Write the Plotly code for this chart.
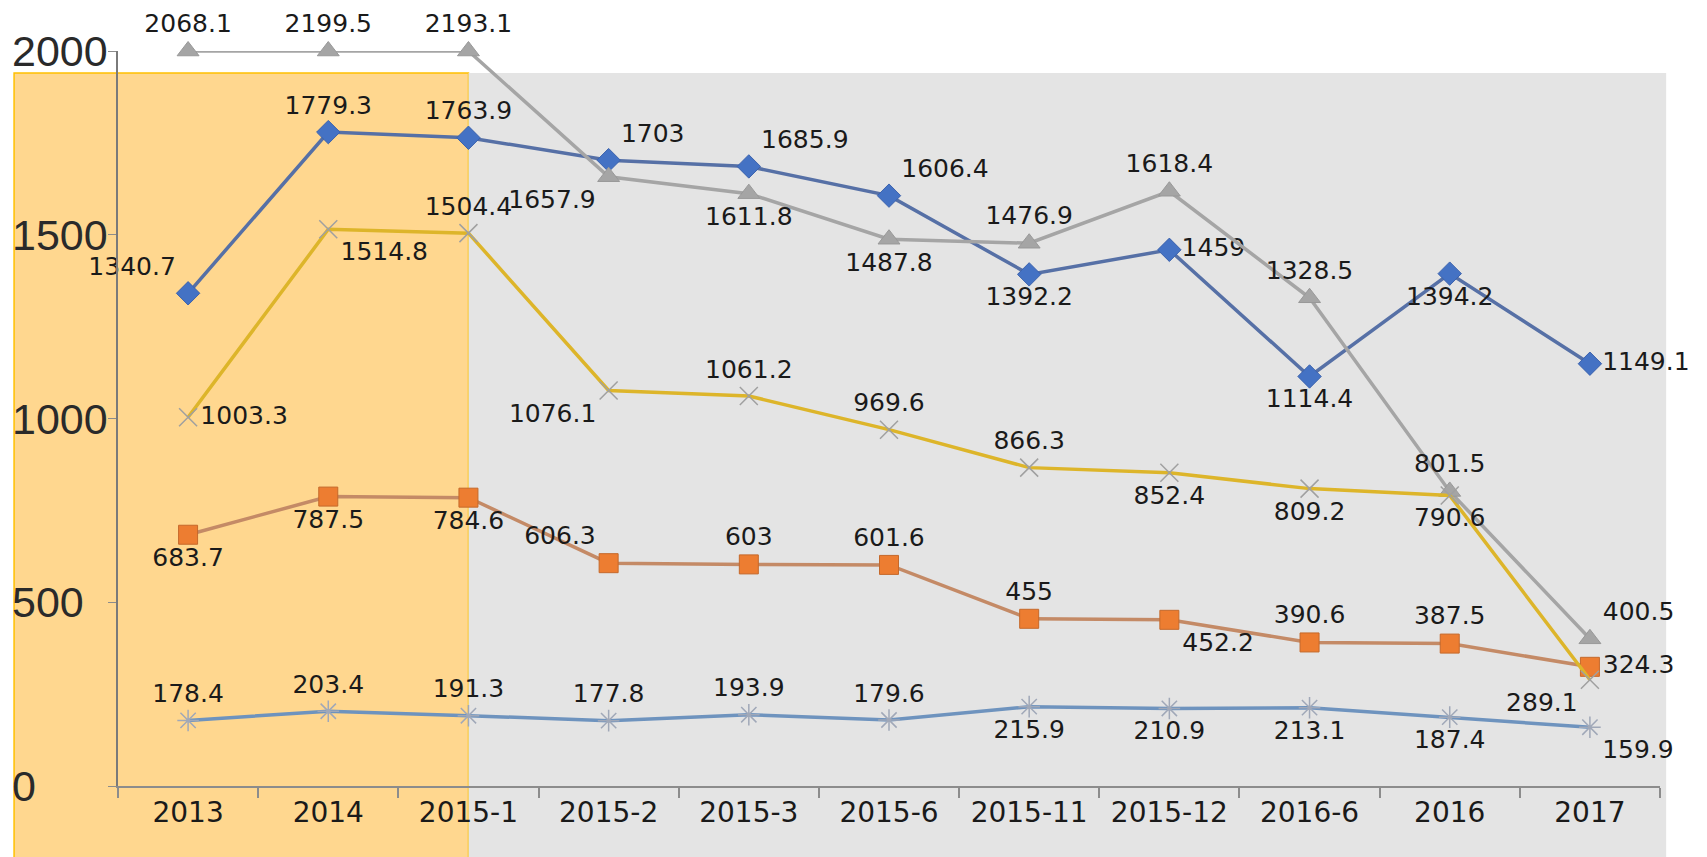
import plotly.graph_objects as go

categories = ["2013", "2014", "2015-1", "2015-2", "2015-3", "2015-6",
              "2015-11", "2015-12", "2016-6", "2016", "2017"]

s_blue = [1340.7, 1779.3, 1763.9, 1703, 1685.9, 1606.4, 1392.2, 1459, 1114.4, 1394.2, 1149.1]
s_orange = [683.7, 787.5, 784.6, 606.3, 603, 601.6, 455, 452.2, 390.6, 387.5, 324.3]
s_gray = [2068.1, 2199.5, 2193.1, 1657.9, 1611.8, 1487.8, 1476.9, 1618.4, 1328.5, 801.5, 400.5]
s_yellow = [1003.3, 1514.8, 1504.4, 1076.1, 1061.2, 969.6, 866.3, 852.4, 809.2, 790.6, 289.1]
s_lblue = [178.4, 203.4, 191.3, 177.8, 193.9, 179.6, 215.9, 210.9, 213.1, 187.4, 159.9]

y_ticks = [0, 500, 1000, 1500, 2000]
y_max = 2000

pos_blue = ["top left", "top center", "top center", "top right", "top right", "top right",
            "bottom center", "middle right", "bottom center", "bottom center", "middle right"]
pos_orange = ["bottom center", "bottom center", "bottom center", "top left", "top center", "top center",
              "top center", "bottom right", "top center", "top center", "middle right"]
pos_gray = ["top center", "top center", "top center", "bottom left", "bottom center", "bottom center",
            "top center", "top center", "top center", "top center", "top right"]
pos_yellow = ["middle right", "bottom right", "top center", "bottom left", "top center", "top center",
              "top center", "bottom center", "bottom center", "bottom center", "bottom left"]
pos_lblue = ["top center", "top center", "top center", "top center", "top center", "top center",
             "bottom center", "bottom center", "bottom center", "bottom center", "bottom right"]

label_font = dict(family="DejaVu Sans", size=25, color="#1a1a1a")

fig = go.Figure()

def clamp(vals):
    # Excel-like: points beyond the axis maximum are drawn at the maximum
    return [min(v, y_max) for v in vals]

def add(vals, name, line_color, marker, positions, width=3.5):
    fig.add_trace(go.Scatter(
        x=categories, y=clamp(vals), name=name, mode="lines+markers+text",
        line=dict(color=line_color, width=width),
        marker=marker,
        text=[f"{v:g}" for v in vals], textposition=positions,
        textfont=label_font, cliponaxis=False, showlegend=False))

add(s_blue, "A", "#5670A6",
    dict(symbol="diamond", size=18, color="#4472C4", line=dict(color="#3B62AD", width=1)), pos_blue)
add(s_orange, "B", "#C48A66",
    dict(symbol="square", size=19, color="#ED7D31", line=dict(color="#C5692B", width=1)), pos_orange)
add(s_gray, "C", "#A5A5A5",
    dict(symbol="triangle-up", size=19, color="#A5A5A5", line=dict(color="#999999", width=1)), pos_gray)
add(s_yellow, "D", "#DDB52A",
    dict(symbol="x-thin-open", size=18, color="#A0A0A0", line=dict(color="#A0A0A0", width=1.5)), pos_yellow)
add(s_lblue, "E", "#6E93BE",
    dict(symbol="asterisk-open", size=18, color="#A0A8B8", line=dict(color="#A0A8B8", width=1.5)), pos_lblue)

# background panels (orange highlight for first three categories, grey for the rest)
fig.add_shape(type="rect", xref="paper", yref="paper", x0=-0.0674, x1=0.2273, y0=-0.1, y1=0.970,
              fillcolor="#FFD78F", line=dict(color="#FFC000", width=1.5), layer="below")
fig.add_shape(type="rect", xref="paper", yref="paper", x0=0.2273, x1=1.004, y0=-0.1, y1=0.970,
              fillcolor="#E4E4E4", line=dict(width=0), layer="below")

for t in y_ticks:
    fig.add_annotation(x=-0.0700, xref="paper", xanchor="left", y=t, yref="y",
                       text=str(t), showarrow=False,
                       font=dict(family="Liberation Sans", size=43, color="#2a2a2a"))

fig.update_layout(
    width=1699, height=849,
    margin=dict(l=110, r=47, t=43, b=71),
    paper_bgcolor="white", plot_bgcolor="rgba(0,0,0,0)",
    xaxis=dict(type="category", range=[-0.5, 10.5], showgrid=False,
               showline=True, linecolor="#8c8c8c", linewidth=2,
               ticks="outside", tickson="boundaries", ticklen=10, tickcolor="#8c8c8c", tickwidth=2,
               tickfont=dict(family="DejaVu Sans", size=28, color="#1a1a1a")),
    yaxis=dict(range=[0, y_max], showgrid=False, zeroline=False,
               showline=True, linecolor="#7a7a7a", linewidth=2,
               tickvals=y_ticks, ticks="outside", ticklen=8, tickcolor="#8c8c8c",
               showticklabels=False),
)

fig.write_html("out.html")
